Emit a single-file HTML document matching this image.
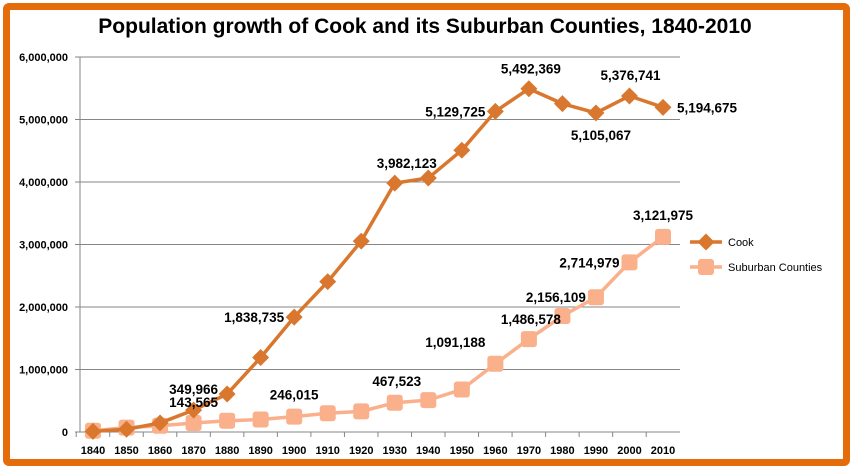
<!DOCTYPE html>
<html><head><meta charset="utf-8"><style>
html,body{margin:0;padding:0;background:#fff;}
#wrap{position:relative;width:851px;height:470px;overflow:hidden;background:#fff;}
#frame{position:absolute;left:3px;top:3px;width:833px;height:449px;border:7px solid #E46C0A;border-radius:6px;}
svg{position:absolute;left:0;top:0;font-family:"Liberation Sans",sans-serif;}
</style></head><body>
<div id="wrap">
<div id="frame"></div>
<svg id="chart" width="851" height="470">
<text x="425" y="33" text-anchor="middle" font-size="21" font-weight="bold" fill="#000">Population growth of Cook and its Suburban Counties, 1840-2010</text>
</svg>
</div>
<script>
const years=[1840,1850,1860,1870,1880,1890,1900,1910,1920,1930,1940,1950,1960,1970,1980,1990,2000,2010];
const cook=[10201,43385,144954,349966,607524,1191922,1838735,2405233,3053017,3982123,4063342,4508792,5129725,5492369,5253655,5105067,5376741,5194675];
const suburban=[20000,70000,100000,143565,180000,200000,246015,300000,330000,467523,510000,680000,1091188,1486578,1856000,2156109,2714979,3121975];
const yTicks=[0,1000000,2000000,3000000,4000000,5000000,6000000];
const cookLabels=[[3,0,-16,'middle'],[6,-10,5,'end'],[9,12,-15,'middle'],[12,-10,5,'end'],[13,2,-15,'middle'],[15,5,27,'middle'],[16,1,-16,'middle'],[17,14,5,'start']];
const subLabels=[[3,0,-16,'middle'],[6,0,-17,'middle'],[9,2,-17,'middle'],[12,-10,-17,'end'],[13,2,-15,'middle'],[15,-10,5,'end'],[16,-10,5,'end'],[17,0,-17,'middle']];
const X0=80,X1=680,Y0=432,Y1=57;
const x=i=>93+i*(663-93)/(years.length-1);
const y=v=>Y0-(v/6000000)*(Y0-Y1);
const svg=document.getElementById('chart');const NS='http://www.w3.org/2000/svg';
function mk(t,a){const e=document.createElementNS(NS,t);for(const k in a)e.setAttribute(k,a[k]);svg.appendChild(e);return e;}
const fmt=v=>v.toLocaleString('en-US');
yTicks.forEach(v=>{
 if(v>0){const g=mk('line',{x1:X0,x2:X1,y1:y(v),y2:y(v),stroke:'#868686','stroke-width':1});
 
 }
 const t=mk('text',{x:X0-12,y:y(v)+4,'text-anchor':'end','font-size':11,'font-weight':'bold',fill:'#000'});t.textContent=fmt(v);
 
 
 const tk=mk('line',{x1:X0-5,x2:X0,y1:y(v),y2:y(v),stroke:'#868686'});
 
 
});
const ya=mk('line',{x1:X0,x2:X0,y1:Y1,y2:Y0,stroke:'#868686'});


const xa=mk('line',{x1:X0,x2:X1,y1:Y0,y2:Y0,stroke:'#868686'});


years.forEach((yr,i)=>{
 const tk=mk('line',{x1:x(i)-16.8,x2:x(i)-16.8,y1:Y0,y2:Y0+5,stroke:'#868686'});
 
 
 const t=mk('text',{x:x(i),y:454,'text-anchor':'middle','font-size':11,'font-weight':'bold',fill:'#000'});t.textContent=yr;
 
 
});
function series(vals,color,shape,name){
 const p=mk('polyline',{points:vals.map((v,i)=>x(i)+','+y(v)).join(' '),fill:'none',stroke:color,'stroke-width':3.5,'stroke-linejoin':'round'});
 
 
 vals.forEach((v,i)=>{let m;
  if(shape==='d'){m=mk('rect',{x:x(i)-6,y:y(v)-6,width:12,height:12,fill:color,transform:`rotate(45 ${x(i)} ${y(v)})`});}
  else{m=mk('rect',{x:x(i)-8,y:y(v)-8,width:16,height:16,rx:3,fill:color});}
  
  
 });
}
series(suburban,'#FAB08A','s','suburban');
series(cook,'#D9772E','d','cook');
function labels(list,vals,name){list.forEach(([i,dx,dy,a])=>{
 const t=mk('text',{x:x(i)+dx,y:y(vals[i])+dy,'text-anchor':a,'font-size':13.5,'font-weight':'bold',fill:'#000'});t.textContent=fmt(vals[i]);
 
 
});}
labels(cookLabels,cook,'cook');
labels(subLabels,suburban,'suburban');
// legend
const l1=mk('line',{x1:690,x2:722,y1:242,y2:242,stroke:'#D9772E','stroke-width':3.5});


const d1=mk('rect',{x:700,y:236,width:12,height:12,fill:'#D9772E',transform:'rotate(45 706 242)'});


const t1=mk('text',{x:728,y:246,'font-size':11,fill:'#000'});t1.textContent='Cook';


const l2=mk('line',{x1:690,x2:722,y1:267,y2:267,stroke:'#FAB08A','stroke-width':3.5});


const d2=mk('rect',{x:698,y:259,width:16,height:16,rx:3,fill:'#FAB08A'});


const t2=mk('text',{x:728,y:271,'font-size':11,fill:'#000'});t2.textContent='Suburban Counties';


</script>
</body></html>
